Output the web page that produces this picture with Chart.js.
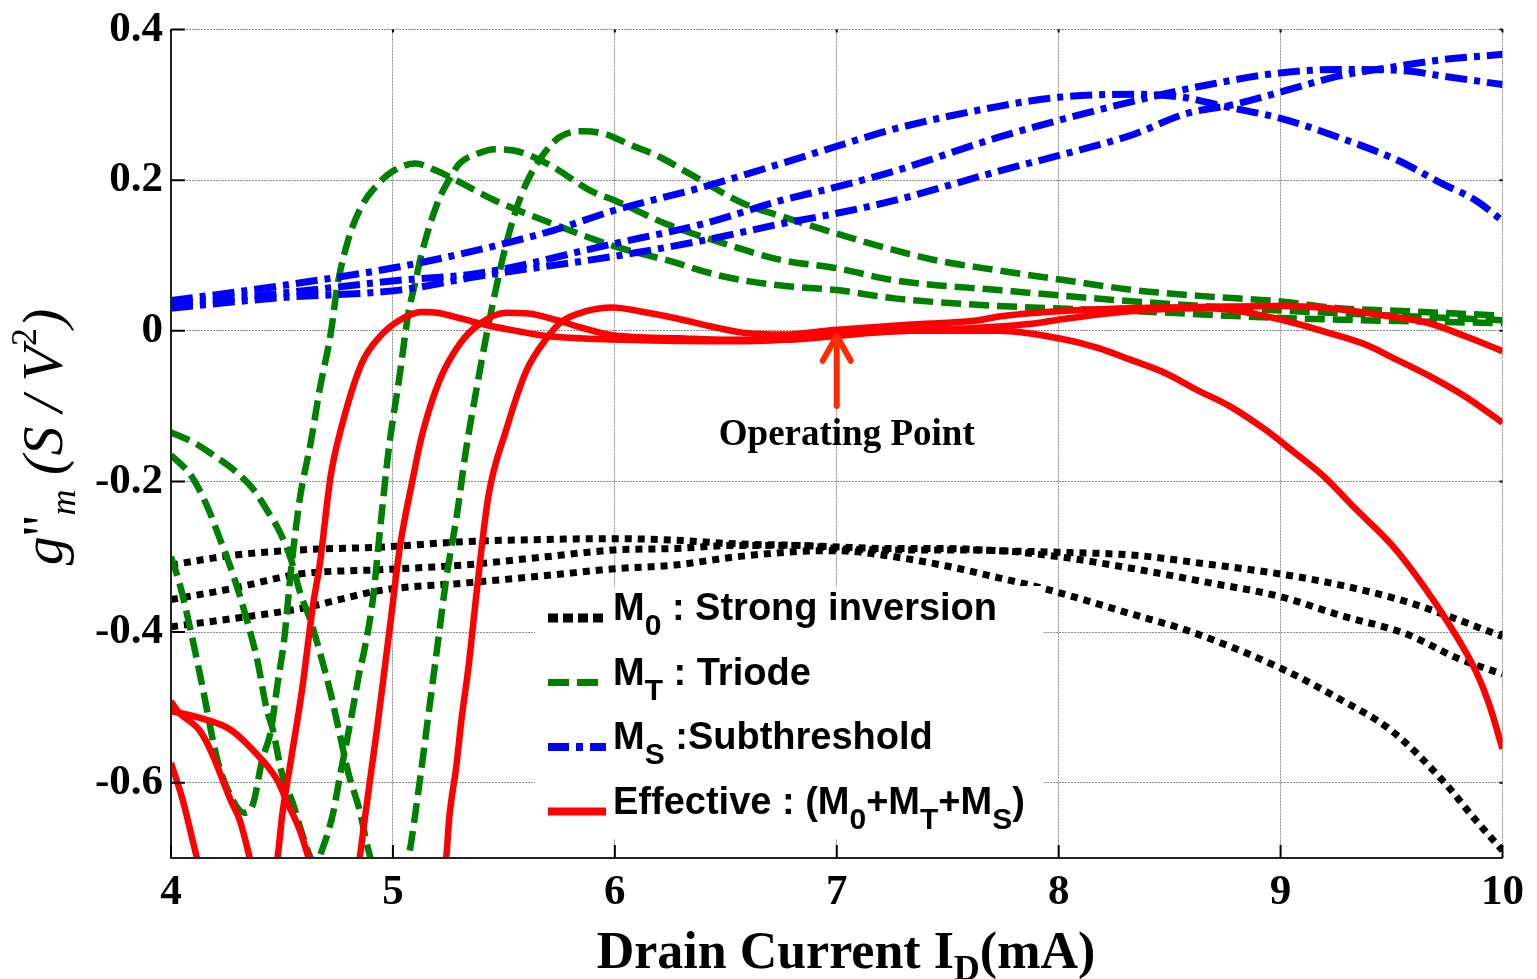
<!DOCTYPE html>
<html>
<head>
<meta charset="utf-8">
<title>g''m versus drain current</title>
<script src="https://cdn.jsdelivr.net/npm/chart.js@4.4.1/dist/chart.umd.min.js"></script>
<style>
  html, body { margin: 0; padding: 0; background: #fff; }
  #wrap { width: 1537px; height: 979px; }
</style>
</head>
<body>
<div id="wrap"><canvas id="myChart" width="1537" height="979"></canvas></div>
<script>
// axis ticks
const xTicks = [4, 5, 6, 7, 8, 9, 10];
const yTicks = [-0.6, -0.4, -0.2, 0, 0.2, 0.4];

// M0 : strong inversion
const m0aX = [4, 4.28, 4.58, 4.96, 5.32, 5.69, 6, 6.27, 6.55, 6.83, 7, 7.21, 7.49, 7.73, 8, 8.34, 8.65, 9, 9.26, 9.57, 9.73, 10];
const m0aY = [-0.311, -0.298, -0.291, -0.287, -0.280, -0.277, -0.276, -0.278, -0.283, -0.285, -0.287, -0.289, -0.289, -0.292, -0.294, -0.298, -0.309, -0.323, -0.337, -0.360, -0.376, -0.406];
const m0bX = [4, 4.28, 4.58, 4.96, 5.32, 5.69, 6, 6.27, 6.55, 6.83, 7, 7.21, 7.5, 7.73, 8, 8.34, 8.65, 9, 9.26, 9.57, 9.8, 10];
const m0bY = [-0.357, -0.342, -0.323, -0.317, -0.311, -0.300, -0.291, -0.289, -0.285, -0.285, -0.289, -0.291, -0.291, -0.292, -0.300, -0.316, -0.333, -0.353, -0.377, -0.403, -0.435, -0.456];
const m0cX = [4, 4.28, 4.58, 4.96, 5.32, 5.69, 6, 6.27, 6.55, 6.83, 7, 7.21, 7.49, 7.73, 7.93, 8.34, 8.59, 9, 9.26, 9.5, 9.73, 9.88, 10];
const m0cY = [-0.393, -0.382, -0.369, -0.344, -0.335, -0.325, -0.316, -0.311, -0.300, -0.293, -0.292, -0.298, -0.312, -0.328, -0.342, -0.377, -0.399, -0.448, -0.488, -0.531, -0.597, -0.650, -0.690];

// MT : triode
const mtaX = [4, 4.04, 4.09, 4.14, 4.21, 4.28, 4.33, 4.37, 4.41, 4.45, 4.48, 4.51, 4.54, 4.58, 4.63, 4.67, 4.72, 4.75, 4.8, 4.86, 4.94, 5, 5.1, 5.2, 5.29, 5.46, 5.72, 6, 6.23, 6.49, 6.75, 7, 7.26, 7.73, 8.34, 9, 10];
const mtaY = [-0.300, -0.337, -0.400, -0.470, -0.571, -0.624, -0.640, -0.628, -0.571, -0.531, -0.469, -0.410, -0.320, -0.224, -0.148, -0.078, -0.003, 0.060, 0.122, 0.166, 0.197, 0.212, 0.222, 0.212, 0.199, 0.173, 0.142, 0.112, 0.094, 0.072, 0.060, 0.054, 0.043, 0.033, 0.026, 0.017, 0.010];
const mtbX = [4, 4.09, 4.16, 4.22, 4.28, 4.34, 4.39, 4.43, 4.46, 4.5, 4.55, 4.59, 4.63, 4.655, 4.68, 4.73, 4.76, 4.79, 4.82, 4.85, 4.87, 4.91, 4.94, 4.98, 5.03, 5.07, 5.1, 5.13, 5.2, 5.25, 5.3, 5.38, 5.46, 5.55, 5.63, 5.72, 5.89, 6, 6.23, 6.49, 6.75, 7, 7.26, 7.73, 8.34, 9, 10];
const mtbY = [-0.165, -0.192, -0.231, -0.276, -0.324, -0.382, -0.439, -0.501, -0.531, -0.588, -0.628, -0.667, -0.700, -0.706, -0.690, -0.641, -0.593, -0.548, -0.501, -0.452, -0.426, -0.356, -0.270, -0.160, -0.060, 0.024, 0.063, 0.103, 0.169, 0.199, 0.222, 0.235, 0.241, 0.239, 0.231, 0.218, 0.186, 0.173, 0.142, 0.116, 0.094, 0.083, 0.067, 0.054, 0.039, 0.027, 0.014];
const mtcX = [4, 4.1, 4.19, 4.28, 4.37, 4.43, 4.49, 4.54, 4.58, 4.63, 4.67, 4.72, 4.76, 4.8, 4.85, 4.89, 4.94, 4.99, 5.03, 5.07, 5.12, 5.16, 5.2, 5.24, 5.29, 5.33, 5.38, 5.42, 5.46, 5.5, 5.55, 5.6, 5.67, 5.75, 5.86, 5.96, 6.06, 6.2, 6.34, 6.58, 6.75, 7, 7.26, 7.44, 7.73, 8.03, 8.34, 8.65, 9, 9.26, 9.57, 10];
const mtcY = [-0.135, -0.148, -0.165, -0.184, -0.210, -0.237, -0.267, -0.303, -0.346, -0.386, -0.426, -0.482, -0.535, -0.588, -0.637, -0.690, -0.735, -0.752, -0.740, -0.700, -0.600, -0.510, -0.420, -0.330, -0.241, -0.157, -0.072, -0.008, 0.050, 0.103, 0.156, 0.195, 0.231, 0.257, 0.265, 0.261, 0.248, 0.231, 0.208, 0.169, 0.152, 0.129, 0.107, 0.094, 0.080, 0.067, 0.054, 0.046, 0.039, 0.030, 0.026, 0.020];

// MS : subthreshold
const msaX = [4, 4.5, 5.03, 5.38, 5.72, 6, 6.4, 6.75, 7, 7.26, 7.73, 8, 8.34, 8.56, 8.73, 9, 9.26, 9.53, 9.73, 9.88, 10];
const msaY = [0.040, 0.060, 0.085, 0.107, 0.133, 0.160, 0.191, 0.222, 0.245, 0.268, 0.298, 0.310, 0.314, 0.310, 0.299, 0.282, 0.257, 0.226, 0.195, 0.173, 0.146];
const msbX = [4, 4.5, 5.03, 5.38, 6, 6.4, 6.75, 7, 7.26, 7.73, 8.11, 8.34, 8.53, 8.68, 8.96, 9.26, 9.57, 9.73, 10];
const msbY = [0.035, 0.050, 0.067, 0.076, 0.116, 0.142, 0.173, 0.191, 0.212, 0.257, 0.288, 0.305, 0.318, 0.327, 0.341, 0.347, 0.345, 0.338, 0.327];
const mscX = [4, 4.5, 5.03, 5.38, 6, 6.4, 6.75, 7, 7.26, 7.73, 8.03, 8.34, 8.57, 8.8, 9, 9.26, 9.5, 9.73, 10];
const mscY = [0.030, 0.044, 0.054, 0.072, 0.099, 0.120, 0.142, 0.156, 0.173, 0.212, 0.235, 0.261, 0.288, 0.301, 0.317, 0.338, 0.350, 0.360, 0.367];

// Effective : M0 + MT + MS
const effaX = [4, 4.05, 4.117, 4.2, 4.3, 4.4, 4.48, 4.5, 4.54, 4.59, 4.64, 4.67, 4.72, 4.77, 4.86, 4.94, 5.03, 5.13, 5.2, 5.31, 5.43, 5.57, 5.69, 5.84, 6.03, 6.51, 6.76, 7, 7.32, 7.64, 7.9, 8.03, 8.32, 8.62, 8.77, 9, 9.22, 9.38, 9.52, 9.67, 9.83, 10];
const effaY = [-0.574, -0.620, -0.700, -0.790, -0.840, -0.810, -0.700, -0.646, -0.571, -0.478, -0.364, -0.311, -0.192, -0.126, -0.043, -0.008, 0.014, 0.025, 0.024, 0.016, 0.007, -0.001, -0.007, -0.010, -0.012, -0.014, -0.012, -0.005, 0.000, 0.004, 0.010, 0.016, 0.026, 0.030, 0.028, 0.015, -0.003, -0.018, -0.038, -0.060, -0.087, -0.122];
const effbX = [4, 4.03, 4.13, 4.18, 4.27, 4.31, 4.355, 4.45, 4.6, 4.75, 4.85, 4.87, 4.9, 4.93, 4.96, 4.99, 5.03, 5.09, 5.13, 5.21, 5.3, 5.39, 5.51, 5.61, 5.74, 5.84, 5.99, 6.29, 6.51, 6.76, 7, 7.32, 7.73, 8, 8.18, 8.32, 8.48, 8.62, 8.77, 8.93, 9.06, 9.19, 9.34, 9.5, 9.64, 9.76, 9.88, 9.94, 10];
const effbY = [-0.492, -0.505, -0.531, -0.558, -0.624, -0.650, -0.700, -0.820, -0.880, -0.820, -0.700, -0.655, -0.590, -0.525, -0.455, -0.385, -0.290, -0.196, -0.140, -0.066, -0.018, 0.009, 0.024, 0.023, 0.014, 0.005, -0.006, -0.010, -0.012, -0.012, -0.007, 0.000, 0.000, -0.010, -0.023, -0.038, -0.056, -0.078, -0.100, -0.131, -0.161, -0.192, -0.237, -0.284, -0.337, -0.390, -0.452, -0.496, -0.555];
const effcX = [4, 4.13, 4.27, 4.37, 4.48, 4.52, 4.58, 4.62, 4.75, 4.95, 5.1, 5.24, 5.254, 5.285, 5.31, 5.34, 5.38, 5.43, 5.51, 5.6, 5.69, 5.76, 5.87, 5.99, 6.11, 6.27, 6.43, 6.59, 6.76, 6.99, 7.32, 7.64, 7.73, 8, 8.32, 8.7, 9, 9.22, 9.45, 9.67, 9.83, 10];
const effcY = [-0.505, -0.514, -0.530, -0.557, -0.597, -0.624, -0.663, -0.700, -0.840, -0.900, -0.850, -0.700, -0.646, -0.580, -0.514, -0.448, -0.340, -0.220, -0.132, -0.054, -0.011, 0.012, 0.026, 0.031, 0.026, 0.017, 0.006, -0.003, -0.005, 0.001, 0.008, 0.014, 0.019, 0.026, 0.030, 0.032, 0.033, 0.030, 0.021, 0.010, -0.007, -0.027];

// operating point marker (x in mA, arrow from tail to tip in S/V^2)
const opPointX = 7;
const opArrowTip = -0.004;
const opArrowTail = -0.100;

const serif = '"Liberation Serif", "Times New Roman", Times, serif';
const sans = '"Liberation Sans", Arial, Helvetica, sans-serif';

const styles = {
    strong: { color: '#000000', dash: [7, 6], width: 7, order: 3 },
    triode: { color: '#008000', dash: [20, 8], width: 6.5, order: 2 },
    sub: { color: '#0000ff', dash: [22, 7, 6, 7], width: 7, order: 1 },
    eff: { color: '#ff0000', dash: [], width: 6.5, order: 0 },
};

function series(xs, ys, style) {
    return {
        data: xs.map((x, i) => ({ x: x, y: ys[i] })),
        borderColor: style.color,
        borderWidth: style.width,
        borderDash: style.dash,
        borderCapStyle: 'butt',
        borderJoinStyle: 'round',
        pointRadius: 0,
        fill: false,
        cubicInterpolationMode: 'monotone',
        clip: 0,
        order: style.order,
    };
}

function drawRich(ctx, parts, x, y, align) {
    let width = 0;
    for (const p of parts) { ctx.font = p.font; width += ctx.measureText(p.text).width; }
    let cx = align === 'center' ? x - width / 2 : x;
    for (const p of parts) {
        ctx.font = p.font;
        ctx.fillText(p.text, cx, y + (p.dy || 0));
        cx += ctx.measureText(p.text).width;
    }
}

const legendMain = 'bold 38px ' + sans;
const legendSub = 'bold 30px ' + sans;
const M = t => ({ text: t, font: legendMain });
const S = t => ({ text: t, font: legendSub, dy: 15 });
const legendRows = [
    { color: '#000000', dash: [10, 5], width: 9, parts: [M('M'), S('0'), M(' : Strong inversion')] },
    { color: '#008000', dash: [21, 8], width: 7, parts: [M('M'), S('T'), M(' : Triode')] },
    { color: '#0000ff', dash: [21, 7, 7, 7], width: 8, parts: [M('M'), S('S'), M(' :Subthreshold')] },
    { color: '#ff0000', dash: [], width: 8, parts: [M('Effective : (M'), S('0'), M('+M'), S('T'), M('+M'), S('S'), M(')')] },
];

const overlay = {
    id: 'overlay',
    afterDatasetsDraw(chart) {
        const { ctx, chartArea: a, scales: { x, y } } = chart;
        ctx.save();

        // legend
        ctx.fillStyle = '#ffffff';
        ctx.fillRect(535, 586, 509, 253);
        legendRows.forEach((row, i) => {
            const base = 620 + i * 64.5;
            ctx.beginPath();
            ctx.setLineDash(row.dash);
            ctx.lineCap = 'butt';
            ctx.strokeStyle = row.color;
            ctx.lineWidth = row.width;
            ctx.moveTo(548, base - 2);
            ctx.lineTo(606, base - 2);
            ctx.stroke();
            ctx.setLineDash([]);
            ctx.fillStyle = '#000000';
            ctx.textBaseline = 'alphabetic';
            drawRich(ctx, row.parts, 613, base, 'left');
        });

        // operating point arrow
        const px = x.getPixelForValue(opPointX);
        const tip = y.getPixelForValue(opArrowTip);
        const tail = y.getPixelForValue(opArrowTail);
        ctx.strokeStyle = '#ff2a00';
        ctx.lineWidth = 6;
        ctx.lineCap = 'round';
        ctx.lineJoin = 'round';
        ctx.beginPath();
        ctx.moveTo(px, tail);
        ctx.lineTo(px, tip + 3);
        ctx.stroke();
        ctx.beginPath();
        ctx.moveTo(px - 14, tip + 27);
        ctx.lineTo(px, tip + 2);
        ctx.lineTo(px + 14, tip + 27);
        ctx.stroke();
        ctx.fillStyle = '#000000';
        ctx.font = 'bold 37px ' + serif;
        ctx.textAlign = 'center';
        ctx.fillText('Operating Point', px + 10, tail + 39);
        ctx.textAlign = 'left';

        // axes box and inward ticks
        ctx.lineCap = 'butt';
        ctx.strokeStyle = '#222222';
        ctx.lineWidth = 2;
        ctx.beginPath();
        ctx.moveTo(a.left, a.top);
        ctx.lineTo(a.left, a.bottom);
        ctx.lineTo(a.right, a.bottom);
        ctx.stroke();
        ctx.lineWidth = 2;
        ctx.strokeStyle = '#000000';
        ctx.beginPath();
        xTicks.forEach(v => {
            const p = x.getPixelForValue(v);
            ctx.moveTo(p, a.bottom); ctx.lineTo(p, a.bottom - 13);
            ctx.moveTo(p, a.top); ctx.lineTo(p, a.top + 3);
        });
        yTicks.forEach(v => {
            const p = y.getPixelForValue(v);
            ctx.moveTo(a.left, p); ctx.lineTo(a.left + 14, p);
            ctx.moveTo(a.right, p); ctx.lineTo(a.right - 3, p);
        });
        ctx.stroke();

        // axis titles
        ctx.fillStyle = '#000000';
        ctx.textBaseline = 'alphabetic';
        drawRich(ctx, [
            { text: 'Drain Current I', font: 'bold 52px ' + serif },
            { text: 'D', font: 'bold 36px ' + serif, dy: 12 },
            { text: '(mA)', font: 'bold 52px ' + serif },
        ], 846, 968, 'center');

        ctx.translate(62, 437);
        ctx.rotate(-Math.PI / 2);
        drawRich(ctx, [
            { text: 'g', font: 'italic 58px ' + serif },
            { text: "''", font: '58px ' + serif },
            { text: 'm', font: 'italic 36px ' + serif, dy: 13 },
            { text: ' (S / V', font: 'italic 58px ' + serif },
            { text: '2', font: '36px ' + serif, dy: -26 },
            { text: ')', font: 'italic 58px ' + serif },
        ], 0, 0, 'center');

        ctx.restore();
    }
};

const ctx = document.getElementById('myChart').getContext('2d');
const myChart = new Chart(ctx, {
    type: 'line',
    data: {
        datasets: [
            series(effaX, effaY, styles.eff),
            series(effbX, effbY, styles.eff),
            series(effcX, effcY, styles.eff),
            series(msaX, msaY, styles.sub),
            series(msbX, msbY, styles.sub),
            series(mscX, mscY, styles.sub),
            series(mtaX, mtaY, styles.triode),
            series(mtbX, mtbY, styles.triode),
            series(mtcX, mtcY, styles.triode),
            series(m0aX, m0aY, styles.strong),
            series(m0bX, m0bY, styles.strong),
            series(m0cX, m0cY, styles.strong),
        ]
    },
    options: {
        responsive: false,
        animation: false,
        devicePixelRatio: 1,
        layout: { padding: { top: 25, right: 30, bottom: 0, left: 0 } },
        plugins: { legend: { display: false }, tooltip: { enabled: false } },
        scales: {
            x: {
                type: 'linear',
                min: 4,
                max: 10,
                afterBuildTicks: scale => { scale.ticks = xTicks.map(v => ({ value: v })); },
                afterFit: scale => { scale.height = 121; },
                grid: { color: '#8c8c8c', lineWidth: 1, drawTicks: false },
                border: { display: false, dash: [2, 1] },
                ticks: {
                    color: '#000000',
                    padding: 13,
                    maxRotation: 0,
                    font: { family: serif, size: 43, weight: 'bold', lineHeight: 1 },
                    callback: v => String(v),
                },
            },
            y: {
                type: 'linear',
                min: -0.7,
                max: 0.4,
                afterBuildTicks: scale => { scale.ticks = yTicks.map(v => ({ value: v })); },
                afterFit: scale => { scale.width = 171; },
                grid: { color: '#8c8c8c', lineWidth: 1, drawTicks: false },
                border: { display: false, dash: [2, 1] },
                ticks: {
                    color: '#000000',
                    padding: 8,
                    font: { family: serif, size: 43, weight: 'bold', lineHeight: 1 },
                    callback: v => (v === 0 ? '0' : v.toFixed(1)),
                },
            },
        },
    },
    plugins: [overlay],
});
</script>
</body>
</html>
